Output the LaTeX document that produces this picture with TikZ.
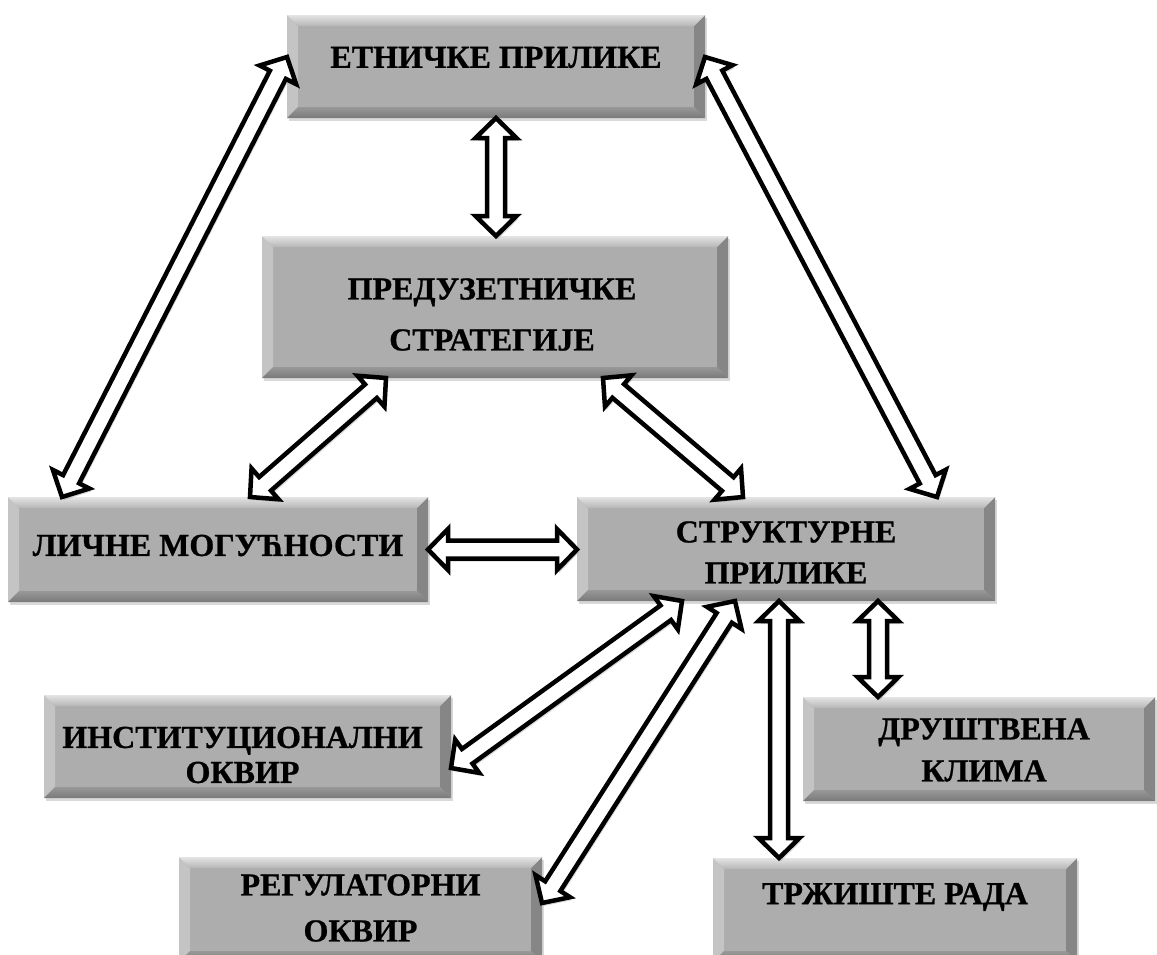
\documentclass[tikz,border=0pt]{standalone}
\usepackage{fontspec}
\setmainfont{Liberation Serif}[BoldFeatures={FakeBold=0.8}]
\usetikzlibrary{calc,shadows}
\definecolor{boxgray}{HTML}{ADADAD}
\definecolor{bvtopA}{HTML}{E4E4E4}
\definecolor{bvtopB}{HTML}{B6B6B6}
\definecolor{bvleft}{HTML}{C4C4C4}
\definecolor{bvbotA}{HTML}{989898}
\definecolor{bvbotB}{HTML}{7A7A7A}
\definecolor{bvright}{HTML}{868686}
\def\bevw{11pt}
\tikzset{
  gbox/.style={fill=boxgray, draw=none, inner sep=0pt, outer sep=0pt,
    drop shadow={shadow xshift=2pt, shadow yshift=-3pt, opacity=0.3},
    path picture={
      \fill[bvleft] (path picture bounding box.north west) -- ([xshift=\bevw,yshift=-\bevw]path picture bounding box.north west) -- ([xshift=\bevw,yshift=\bevw]path picture bounding box.south west) -- (path picture bounding box.south west) -- cycle;
      \fill[bvright] (path picture bounding box.north east) -- ([xshift=-\bevw,yshift=-\bevw]path picture bounding box.north east) -- ([xshift=-\bevw,yshift=\bevw]path picture bounding box.south east) -- (path picture bounding box.south east) -- cycle;
      \shade[top color=bvtopA, bottom color=bvtopB] (path picture bounding box.north west) -- (path picture bounding box.north east) -- ([xshift=-\bevw,yshift=-\bevw]path picture bounding box.north east) -- ([xshift=\bevw,yshift=-\bevw]path picture bounding box.north west) -- cycle;
      \shade[top color=bvbotA, bottom color=bvbotB] ([xshift=\bevw,yshift=\bevw]path picture bounding box.south west) -- ([xshift=-\bevw,yshift=\bevw]path picture bounding box.south east) -- (path picture bounding box.south east) -- (path picture bounding box.south west) -- cycle;
    }},
  lbl/.style={font=\bfseries\fontsize{32}{38}\selectfont, align=center, text=black, inner sep=0pt},
  barrow/.style={fill=white, draw=black, line width=4.5pt, line join=miter, miter limit=10,
    drop shadow={shadow xshift=2pt, shadow yshift=-3pt, opacity=0.3}},
}
\newcommand\dbla[2]{%
  \coordinate (q1) at (#1);
  \coordinate (q2) at (#2);
  \coordinate (p1) at ($(q1)!20pt!(q2)$);
  \coordinate (p2) at ($(q2)!20pt!(q1)$);
  \filldraw[barrow] (q1)
   -- ($(p1)!20.5pt!90:(q2)$) -- ($(p1)!9pt!90:(q2)$)
   -- ($(p2)!9pt!-90:(q1)$) -- ($(p2)!20.5pt!-90:(q1)$)
   -- (q2)
   -- ($(p2)!20.5pt!90:(q1)$) -- ($(p2)!9pt!90:(q1)$)
   -- ($(p1)!9pt!-90:(q2)$) -- ($(p1)!20.5pt!-90:(q2)$)
   -- cycle;
}
\begin{document}
\begin{tikzpicture}[x=1pt,y=-1pt]
\useasboundingbox (0,0) rectangle (1157,954);
% boxes
\node[gbox, minimum width=418pt, minimum height=103pt] (etn) at (496,66.5) {};
\node[gbox, minimum width=466pt, minimum height=142pt] (pred) at (495,307) {};
\node[gbox, minimum width=420pt, minimum height=105pt] (lich) at (218,549.5) {};
\node[gbox, minimum width=418pt, minimum height=104pt] (str) at (786,549) {};
\node[gbox, minimum width=407pt, minimum height=103pt] (inst) at (247.5,746.5) {};
\node[gbox, minimum width=352pt, minimum height=104pt] (drus) at (979,749) {};
\node[gbox, minimum width=363pt, minimum height=105pt] (reg) at (360.5,909.5) {};
\node[gbox, minimum width=364pt, minimum height=104pt] (trz) at (895,910) {};
% labels
\node[lbl] (etn-t) at ([yshift=9pt]etn.center) {ЕТНИЧКЕ ПРИЛИКЕ};
\node[lbl] (pred-t) at ([xshift=-3pt,yshift=-7.5pt]pred.center) {ПРЕДУЗЕТНИЧКЕ\\[13pt]СТРАТЕГИЈЕ};
\node[lbl] (lich-t) at ([yshift=4pt]lich.center) {ЛИЧНЕ МОГУЋНОСТИ};
\node[lbl] (str-t) at ([yshift=-3.5pt]str.center) {СТРУКТУРНЕ\\[3pt]ПРИЛИКЕ};
\node[lbl] (inst-t) at ([xshift=-5pt,yshift=-8.5pt]inst.center) {ИНСТИТУЦИОНАЛНИ\\[-3pt]ОКВИР};
\node[lbl] (drus-t) at ([xshift=5pt,yshift=-1pt]drus.center) {ДРУШТВЕНА\\[4pt]КЛИМА};
\node[lbl] (reg-t) at ([yshift=1.5pt]reg.center) {РЕГУЛАТОРНИ\\[8pt]ОКВИР};
\node[lbl] (trz-t) at ([yshift=13pt]trz.center) {ТРЖИШТЕ РАДА};
% arrows
\dbla{etn.south}{etn.south |- pred.north}
\dbla{[yshift=9.5pt]etn.west}{[xshift=-156pt]lich.north}
\dbla{[yshift=9.5pt]etn.east}{[xshift=151pt]str.north}
\dbla{[xshift=-109pt]pred.south}{[xshift=32pt]lich.north}
\dbla{[xshift=108pt]pred.south}{[xshift=-43pt]str.north}
\dbla{lich.east}{lich.east -| str.west}
\dbla{[xshift=-104pt]str.south}{[yshift=-21.5pt]inst.east}
\dbla{[xshift=-51pt]str.south}{[yshift=6.5pt]reg.east}
\coordinate (tzA) at ([xshift=-7pt]str.south);
\dbla{tzA}{tzA |- trz.north}
\coordinate (dsA) at ([xshift=92pt]str.south);
\dbla{dsA}{dsA |- drus.north}
\end{tikzpicture}
\end{document}
